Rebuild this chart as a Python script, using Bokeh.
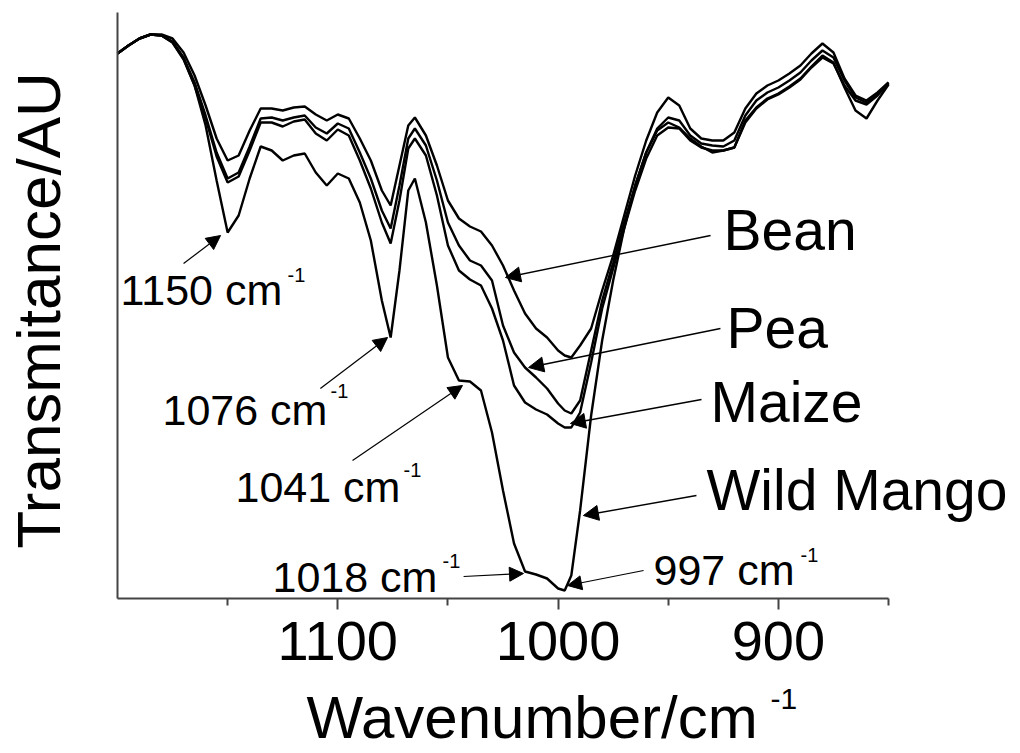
from bokeh.plotting import figure
from bokeh.models import Range1d, Label, Arrow, NormalHead, FixedTicker
from bokeh.embed import file_html
from bokeh.resources import INLINE

# ---------------- data ----------------
wavenumber = [1200, 1195, 1190, 1185, 1180, 1175, 1170, 1165, 1160, 1155,
              1150, 1145, 1140, 1135, 1130, 1125, 1120, 1115, 1110, 1105,
              1100, 1095, 1090, 1085, 1080, 1076, 1072, 1068, 1065, 1060,
              1055, 1050, 1045, 1040, 1035, 1030, 1025, 1020, 1015, 1010,
              1005, 1000, 997, 994, 990, 985, 980, 975, 970, 965,
              960, 955, 950, 945, 940, 935, 930, 925, 920, 915,
              910, 905, 900, 895, 890, 885, 880, 875, 870, 865,
              860, 855, 850]

bean = [54.5, 55.3, 56.0, 56.4, 56.4, 56.0, 54.6, 52.3, 49.3, 46.0,
        43.8, 44.3, 46.8, 49.0, 49.0, 48.8, 49.1, 49.2, 48.4, 47.8,
        48.4, 48.0, 46.0, 43.8, 40.8, 39.3, 43.3, 47.3, 48.1, 46.3,
        43.3, 39.8, 38.0, 37.2, 36.7, 35.3, 33.3, 30.8, 28.5, 27.0,
        26.1, 24.8, 24.3, 24.1, 25.3, 27.0, 30.8, 34.3, 38.3, 42.3,
        45.8, 48.6, 50.1, 49.3, 47.0, 46.0, 45.8, 45.8, 46.6, 49.0,
        50.5, 51.3, 51.8, 52.5, 53.3, 54.5, 55.5, 54.6, 52.0, 50.3,
        49.8, 50.6, 51.6]

pea = [54.5, 55.3, 56.0, 56.4, 56.3, 55.7, 54.1, 51.6, 48.3, 44.6,
       42.0, 42.6, 45.2, 48.0, 48.1, 47.8, 48.1, 48.3, 47.1, 46.5,
       47.5, 47.0, 44.6, 42.0, 38.8, 37.0, 41.3, 46.0, 47.0, 45.3,
       41.8, 37.6, 35.3, 33.8, 33.3, 31.8, 27.3, 24.6, 23.1, 22.1,
       21.0, 19.5, 18.8, 18.5, 19.8, 24.8, 29.8, 33.6, 37.6, 41.3,
       44.6, 47.0, 48.1, 47.8, 46.3, 45.5, 45.3, 45.2, 45.8, 48.3,
       49.8, 50.6, 51.1, 51.8, 52.6, 53.8, 54.8, 54.1, 51.8, 50.1,
       49.6, 50.5, 51.6]

maize = [54.5, 55.3, 56.0, 56.4, 56.3, 55.6, 53.9, 51.3, 48.0, 44.2,
         41.6, 42.2, 44.8, 47.6, 47.6, 47.2, 47.7, 47.9, 46.5, 45.8,
         46.9, 46.3, 43.8, 41.0, 37.6, 35.5, 39.8, 45.0, 46.0, 44.3,
         40.3, 35.3, 32.8, 31.9, 31.3, 29.0, 25.8, 21.3, 19.6, 18.9,
         18.4, 17.5, 17.1, 17.1, 18.6, 23.6, 29.0, 33.0, 37.0, 40.8,
         44.0, 46.3, 47.1, 47.0, 45.8, 45.1, 44.8, 44.8, 45.1, 47.6,
         49.0, 49.9, 50.4, 51.1, 51.9, 53.1, 54.1, 53.5, 51.3, 49.8,
         49.4, 50.3, 51.5]

wild_mango = [54.5, 55.3, 56.0, 56.4, 56.3, 55.6, 54.0, 51.3, 47.3, 41.8,
              36.6, 38.3, 42.0, 45.2, 44.8, 43.8, 44.3, 44.5, 42.6, 41.3,
              42.5, 42.0, 39.6, 35.8, 29.8, 26.1, 32.8, 40.8, 42.0, 37.6,
              31.3, 24.1, 21.8, 21.7, 20.8, 16.6, 10.8, 5.5, 2.7, 2.4,
              2.0, 1.0, 0.8, 2.3, 8.8, 18.3, 25.8, 31.8, 37.0, 41.3,
              44.6, 46.8, 47.6, 47.1, 46.0, 45.2, 44.6, 44.8, 45.1, 47.8,
              49.1, 50.0, 50.5, 51.2, 52.0, 53.2, 54.3, 53.6, 51.1, 48.8,
              48.0, 49.8, 51.4]

series_names = ["Bean", "Pea", "Maize", "Wild Mango"]
series_values = [bean, pea, maize, wild_mango]

x_ticks = [1100, 1000, 900]
x_minor_ticks = [1150, 1050, 950, 850]
x_axis_span = (850, 1200)
y_axis_span = (0, 58.6)

peak_labels = ["1150 cm", "1076 cm", "1041 cm", "1018 cm", "997 cm"]

# ---------------- layout (annotation placement) ----------------
# view window (data units) so the plotting frame fills the canvas
X_VIEW = (1253.1, 790.1)
Y_VIEW = (-15.5, 59.8)

# text anchors in canvas pixels: (left, baseline)
peak_text_px = [(120, 305), (162, 425), (235, 502), (272, 592), (653, 585)]
peak_sup_px = [(287, 282), (330, 398), (403, 477), (442, 568), (800, 562)]
# arrows in data units: (start), (tip)
peak_arrows = [((1170.0, 33.5), (1153.2, 36.3)),
               ((1107.9, 21.0), (1077.4, 26.1)),
               ((1093.3, 13.8), (1043.4, 21.3)),
               ((1042.9, 2.2), (1015.7, 2.5)),
               ((961.2, 2.8), (995.7, 1.3))]

name_text_px = [(723, 250), (726, 348), (710, 422), (706, 510)]
name_arrows = [((930.8, 36.3), (1023.9, 32.1)),
               ((926.3, 27.0), (1013.4, 23.1)),
               ((934.9, 19.9), (994.4, 17.5)),
               ((937.2, 10.3), (988.5, 8.3))]

FONT = "Liberation Sans"
BASE_SHIFT = 0.36  # alphabetic baseline correction (fraction of font size)


def add_text(p, x, y, text, size, **kw):
    p.add_layout(Label(x=x, y=y - BASE_SHIFT * size, x_units="canvas", y_units="canvas",
                       text=text, text_font=FONT, text_font_size=f"{size}px",
                       text_color="black", text_align="left",
                       text_baseline="alphabetic", **kw))


p = figure(width=1020, height=753,
           x_range=Range1d(*X_VIEW), y_range=Range1d(*Y_VIEW),
           output_backend="svg", toolbar_location=None,
           min_border=0, min_border_left=0, min_border_right=0,
           min_border_top=0, min_border_bottom=0)

p.outline_line_color = None
p.xgrid.visible = False
p.ygrid.visible = False
p.background_fill_color = "white"
p.border_fill_color = "white"

for vals in series_values:
    p.line(wavenumber, vals, line_color="black", line_width=2.4)

# x axis
xa = p.xaxis[0]
xa.fixed_location = 0
xa.bounds = x_axis_span
xa.ticker = FixedTicker(ticks=x_ticks, minor_ticks=x_minor_ticks)
xa.axis_line_color = "#444444"
xa.axis_line_width = 2
xa.major_tick_line_color = "#444444"
xa.major_tick_line_width = 2
xa.minor_tick_line_color = "#444444"
xa.minor_tick_line_width = 2
xa.major_tick_in = 0
xa.major_tick_out = 11
xa.minor_tick_in = 0
xa.minor_tick_out = 7
xa.major_label_text_font = FONT
xa.major_label_text_font_size = "56px"
xa.major_label_text_color = "black"
xa.major_label_standoff = 12

# y axis (line only)
ya = p.yaxis[0]
ya.fixed_location = 1200
ya.bounds = y_axis_span
ya.ticker = FixedTicker(ticks=[])
ya.axis_line_color = "#444444"
ya.axis_line_width = 2
ya.major_tick_line_color = None
ya.minor_tick_line_color = None
ya.major_label_text_font_size = "0px"

# axis titles
add_text(p, 306, 739, "Wavenumber/cm", 60)
add_text(p, 770, 709, "-1", 30)
p.add_layout(Label(x=38, y=310, x_units="canvas", y_units="canvas",
                   text="Transmitance/AU", text_font=FONT,
                   text_font_size="62px", text_color="black", angle=1.5708,
                   text_align="center", text_baseline="middle"))

# peak annotations
for lab, (tx, ty), (sx, sy), ((x0, y0), (x1, y1)) in zip(peak_labels, peak_text_px, peak_sup_px, peak_arrows):
    add_text(p, tx, ty, lab, 43)
    add_text(p, sx, sy, "-1", 20)
    p.add_layout(Arrow(x_start=x0, y_start=y0, x_end=x1, y_end=y1,
                       line_color="black", line_width=1.2,
                       end=NormalHead(size=14, fill_color="black", line_color="black")))

# series name annotations
for name, (tx, ty), ((x0, y0), (x1, y1)) in zip(series_names, name_text_px, name_arrows):
    add_text(p, tx, ty, name, 57)
    p.add_layout(Arrow(x_start=x0, y_start=y0, x_end=x1, y_end=y1,
                       line_color="black", line_width=1.4,
                       end=NormalHead(size=15, fill_color="black", line_color="black")))

open("out.html", "w").write(file_html(p, INLINE))
